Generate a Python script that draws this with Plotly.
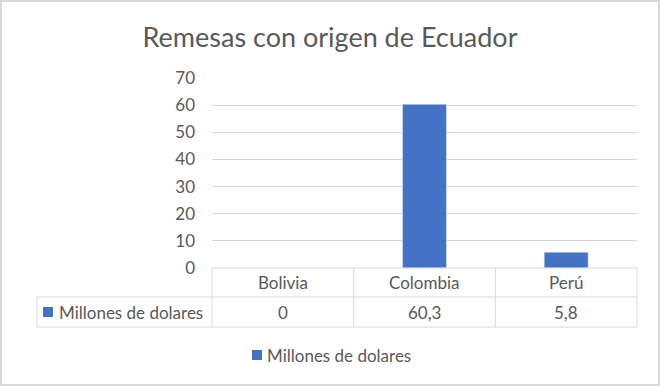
import plotly.graph_objects as go

categories = ["Bolivia", "Colombia", "Perú"]
values = [0, 60.3, 5.8]
value_labels = ["0", "60,3", "5,8"]
series_name = "Millones de dolares"
title_text = "Remesas con origen de Ecuador"

BAR = "#4472C4"
GRID = "#d9d9d9"
TXT = "#595959"
FONT = "Lato"
FS = 17

W, H = 660, 386
L, R, T, B = 212, 23, 78, 118
PW, PH = W - L - R, H - T - B

def py(Y):
    return (H - B - Y) / PH

def px(X):
    return (X - L) / PW

fig = go.Figure()
fig.add_trace(go.Bar(x=categories, y=values, name=series_name,
                     marker_color=BAR, width=0.31, showlegend=False))

shapes = []
line = dict(color=GRID, width=1)
# outer chart border
shapes.append(dict(type="rect", xref="paper", yref="paper", x0=px(1), x1=px(W - 1), y0=py(H - 1), y1=py(1),
                   line=dict(color="#d9d9d9", width=2), layer="below"))
# table borders
shapes.append(dict(type="line", xref="paper", yref="paper", x0=0, x1=1, y0=0, y1=0, line=line))
shapes.append(dict(type="line", xref="paper", yref="paper", x0=px(37), x1=1, y0=py(297), y1=py(297), line=line))
shapes.append(dict(type="line", xref="paper", yref="paper", x0=px(37), x1=1, y0=py(327), y1=py(327), line=line))
shapes.append(dict(type="line", xref="paper", yref="paper", x0=px(37), x1=px(37), y0=py(297), y1=py(327), line=line))
for i in range(len(categories) + 1):
    xv = i / len(categories)
    shapes.append(dict(type="line", xref="paper", yref="paper", x0=xv, x1=xv, y0=0, y1=py(327), line=line))
# legend key in table
shapes.append(dict(type="rect", xref="paper", yref="paper", x0=px(43), x1=px(53),
                   y0=py(317), y1=py(307), fillcolor=BAR, line=dict(width=0)))
# bottom legend key
shapes.append(dict(type="rect", xref="paper", yref="paper", x0=px(252), x1=px(262),
                   y0=py(360), y1=py(350), fillcolor=BAR, line=dict(width=0)))

font = dict(family=FONT, size=FS, color=TXT)
annotations = []
for c, v in zip(categories, value_labels):
    annotations.append(dict(x=c, xref="x", y=py(282.5), yref="paper", text=c, showarrow=False,
                            font=font, xanchor="center", yanchor="middle"))
    annotations.append(dict(x=c, xref="x", y=py(312), yref="paper", text=v, showarrow=False,
                            font=font, xanchor="center", yanchor="middle"))
annotations.append(dict(x=px(57), xref="paper", y=py(312), yref="paper", text=series_name, showarrow=False,
                        font=font, xanchor="left", yanchor="middle"))
annotations.append(dict(x=px(265), xref="paper", y=py(355), yref="paper", text=series_name, showarrow=False,
                        font=font, xanchor="left", yanchor="middle"))

fig.update_layout(
    width=W, height=H,
    margin=dict(l=L, r=R, t=T, b=B, pad=0),
    paper_bgcolor="white", plot_bgcolor="white",
    showlegend=False,
    title=dict(text=title_text, x=0.5, xref="container", xanchor="center",
               y=1 - 38 / H, yanchor="middle",
               font=dict(family=FONT, size=27, color=TXT)),
    xaxis=dict(showticklabels=False, showgrid=False, zeroline=False, showline=False,
               range=[-0.5, 2.5], fixedrange=True),
    yaxis=dict(range=[0, 70], dtick=10, showgrid=True, gridcolor=GRID, gridwidth=1,
               zeroline=False, showline=False, ticks="", ticklabelstandoff=16,
               tickfont=font),
    shapes=shapes, annotations=annotations,
)

fig.write_html("out.html", config={"displayModeBar": False},
               post_script="document.body.style.margin='0';")
